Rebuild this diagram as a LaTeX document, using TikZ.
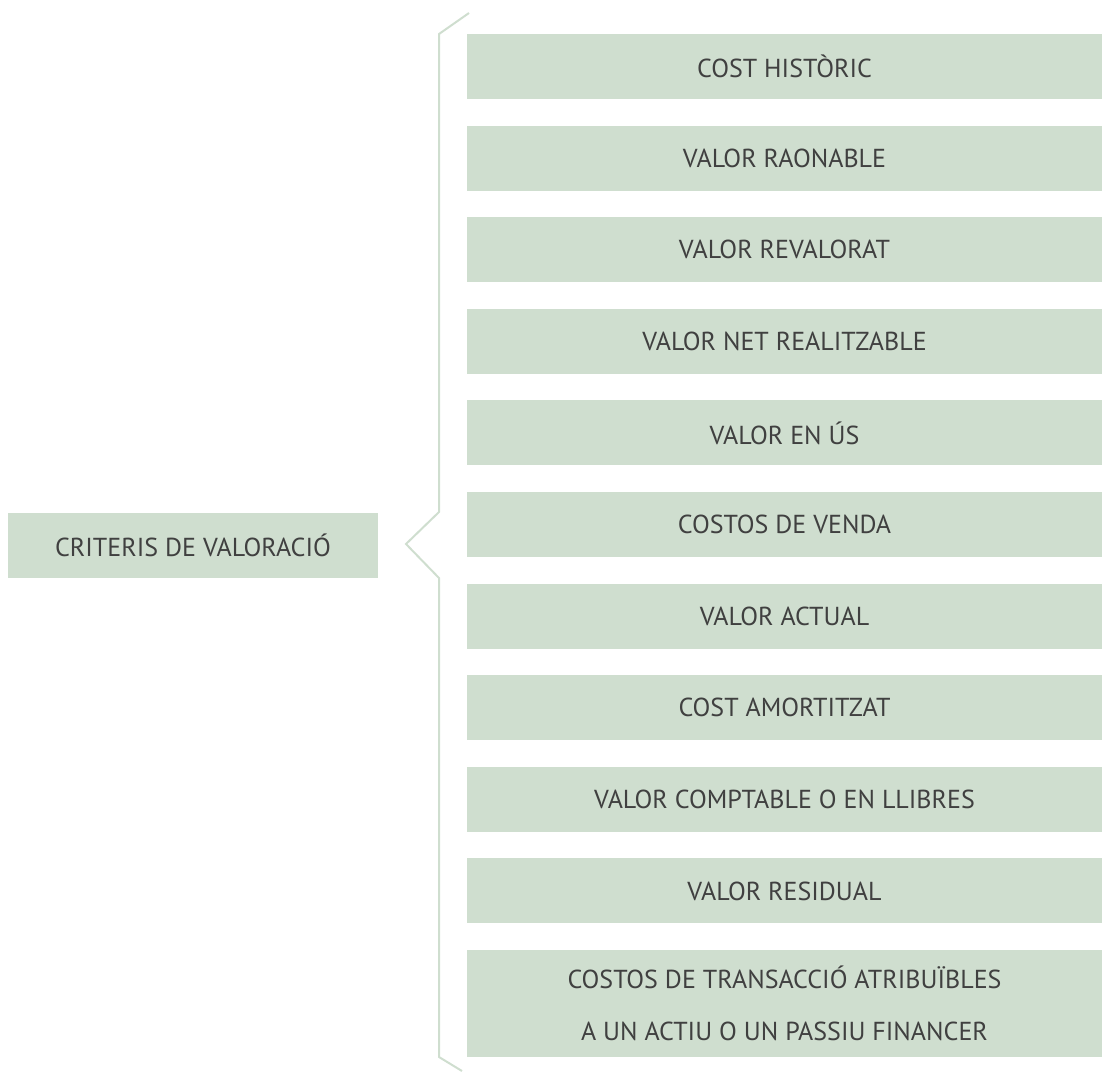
\documentclass[tikz,border=0pt]{standalone}
\usepackage{fontspec}
\setmainfont{PT Sans}
\definecolor{boxgreen}{HTML}{CFDECF}
\definecolor{txtgrey}{HTML}{404040}
\begin{document}
\begin{tikzpicture}[x=1pt,y=-1pt,
  item/.style={fill=boxgreen, draw=none, inner sep=0pt, text=txtgrey,
    font=\fontsize{26}{52}\selectfont, align=center},
  brace/.style={draw=boxgreen, line width=2pt, line join=miter}]
\useasboundingbox (0,0) rectangle (1103,1072);
\node[item, minimum width=370pt, minimum height=65pt] (root) at (193,545.5) {CRITERIS DE VALORACIÓ};
\foreach \t [count=\i from 0] in {COST HISTÒRIC,VALOR RAONABLE,VALOR REVALORAT,VALOR NET REALITZABLE,VALOR EN ÚS,COSTOS DE VENDA,VALOR ACTUAL,COST AMORTITZAT,VALOR COMPTABLE O EN LLIBRES,VALOR RESIDUAL}{
  \node[item, minimum width=635pt, minimum height=65pt] (b\i) at (784.5,{66.5+91.6*\i}) {\t};
}
\node[item, minimum width=635pt, minimum height=107pt] (b10) at (784.5,1003.5) {COSTOS DE TRANSACCIÓ ATRIBUÏBLES\\A UN ACTIU O UN PASSIU FINANCER};
\coordinate (btop) at (469,13);
\coordinate (bbot) at (462,1071);
\coordinate (tip) at (406,544);
\draw[brace] (btop) -- (439,34) -- (439,512) -- (tip) -- (439,578) -- (439,1057) -- (bbot);
\end{tikzpicture}
\end{document}
